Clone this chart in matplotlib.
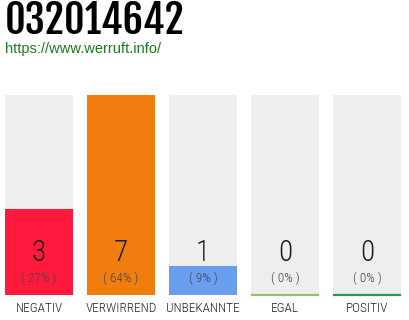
import numpy as np
import matplotlib
matplotlib.use('Agg')
import matplotlib.pyplot as plt

categories = ['NEGATIV', 'VERWIRREND', 'UNBEKANNTE', 'EGAL', 'POSITIV']
counts = [3, 7, 1, 0, 0]
percents = [27, 64, 9, 0, 0]
bar_colors = ['#FF1A3D', '#F07D0D', '#6A9EEE', '#8BC46A', '#1FA04A']
title = '032014642'
url = 'https://www.werruft.info/'

W, H = 410, 320
fig = plt.figure(figsize=(W / 100, H / 100), dpi=100)

# bar area in pixels: x 5..401, y 95..295 (from top)
ax = fig.add_axes([5 / W, (H - 295) / H, 396 / W, 200 / H])
w = 68 / 82
x = np.arange(len(categories))
ymax = max(counts)
ax.set_xlim(-w / 2, len(categories) - 1 + w / 2)
ax.set_ylim(0, ymax)
ax.axis('off')

ax.bar(x, [ymax] * len(x), width=w, color='#EEEEEE', zorder=1)
ax.bar(x, counts, width=w, color=bar_colors, zorder=2)
for i, c in enumerate(counts):
    if c == 0:
        ax.plot([x[i] - w / 2, x[i] + w / 2], [0, 0], color=bar_colors[i],
                lw=1.6, solid_capstyle='butt', zorder=3, clip_on=False)

thin = dict(family='Roboto Condensed', fontweight=300)
px = ymax / 200  # data units per pixel
for i in range(len(categories)):
    ax.text(x[i], 42 * px, str(counts[i]), ha='center', va='center',
            fontsize=21, color='#1a1a1a', **thin)
    ax.text(x[i], 17 * px, '( %d%% )' % percents[i], ha='center', va='center',
            fontsize=9.5, color='#444444', **thin)
    ax.text(x[i], -13 * px, categories[i], ha='center', va='center',
            fontsize=9.5, color='#222222', clip_on=False, **thin)

fig.text(5 / W, 1 - 21.5 / H, title, ha='left', va='center', fontsize=29,
         family='Fjalla One', color='#000000')
fig.text(5 / W, 1 - 49.5 / H, url, ha='left', va='center', fontsize=10.5,
         family='Liberation Sans', color='#1E7A1E')

fig.savefig('out.png', dpi=100)
